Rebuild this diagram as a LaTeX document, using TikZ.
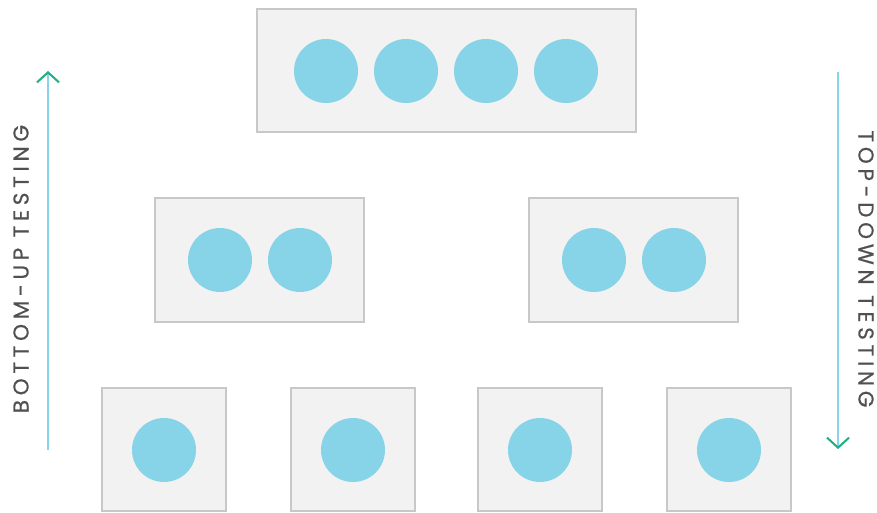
\documentclass[tikz,border=0pt]{standalone}
\usepackage{fontspec}
\setmainfont{Poppins}
\usetikzlibrary{arrows.meta}
\definecolor{boxfill}{HTML}{F2F2F2}
\definecolor{boxline}{HTML}{C8C8C8}
\definecolor{dot}{HTML}{87D3E8}
\definecolor{tipgreen}{HTML}{1DAF80}
\definecolor{txt}{HTML}{505050}
\begin{document}
\begin{tikzpicture}[x=1pt,y=-1pt,
  box/.style={draw=boxline,fill=boxfill,line width=2pt,inner sep=0pt},
  ball/.style={circle,fill=dot,minimum size=64pt,inner sep=0pt},
  flow/.style={draw=dot,line width=2pt,-{Straight Barb[color=tipgreen,length=10pt,width=22pt,line width=2pt]}},
  lbl/.style={text=txt,font=\fontsize{21.5}{21.5}\selectfont\addfontfeatures{LetterSpace=22,FakeBold=0.6}}]
\useasboundingbox (0,0) rectangle (877,512);
% boxes
\node[box,minimum width=379pt,minimum height=123pt] (top) at (446.5,70.5) {};
\node[box,minimum width=209pt,minimum height=124pt] (ml) at (259.5,260) {};
\node[box,minimum width=209pt,minimum height=124pt] (mr) at (633.5,260) {};
\node[box,minimum width=124pt,minimum height=123pt] (b1) at (164,449.5) {};
\node[box,minimum width=124pt,minimum height=123pt] (b2) at (353,449.5) {};
\node[box,minimum width=124pt,minimum height=123pt] (b3) at (540,449.5) {};
\node[box,minimum width=124pt,minimum height=123pt] (b4) at (729,449.5) {};
% balls
\node[ball] (t1) at (326,71) {};
\node[ball] (t2) at (406,71) {};
\node[ball] (t3) at (486,71) {};
\node[ball] (t4) at (566,71) {};
\node[ball] (l1) at (220,260) {};
\node[ball] (l2) at (300,260) {};
\node[ball] (r1) at (594,260) {};
\node[ball] (r2) at (674,260) {};
\node[ball] (c1) at (164,450) {};
\node[ball] (c2) at (353,450) {};
\node[ball] (c3) at (540,450) {};
\node[ball] (c4) at (729,450) {};
% arrows
\coordinate (ua) at (48,450);
\coordinate (ub) at (48,71);
\coordinate (da) at (838,72);
\coordinate (db) at (838,449);
\draw[flow] (ua) -- (ub);
\draw[flow] (da) -- (db);
% labels
\node[lbl,rotate=90] (bu) at (21,269) {BOTTOM-UP TESTING};
\node[lbl,rotate=-90] (td) at (866,269) {TOP-DOWN TESTING};
\end{tikzpicture}
\end{document}
